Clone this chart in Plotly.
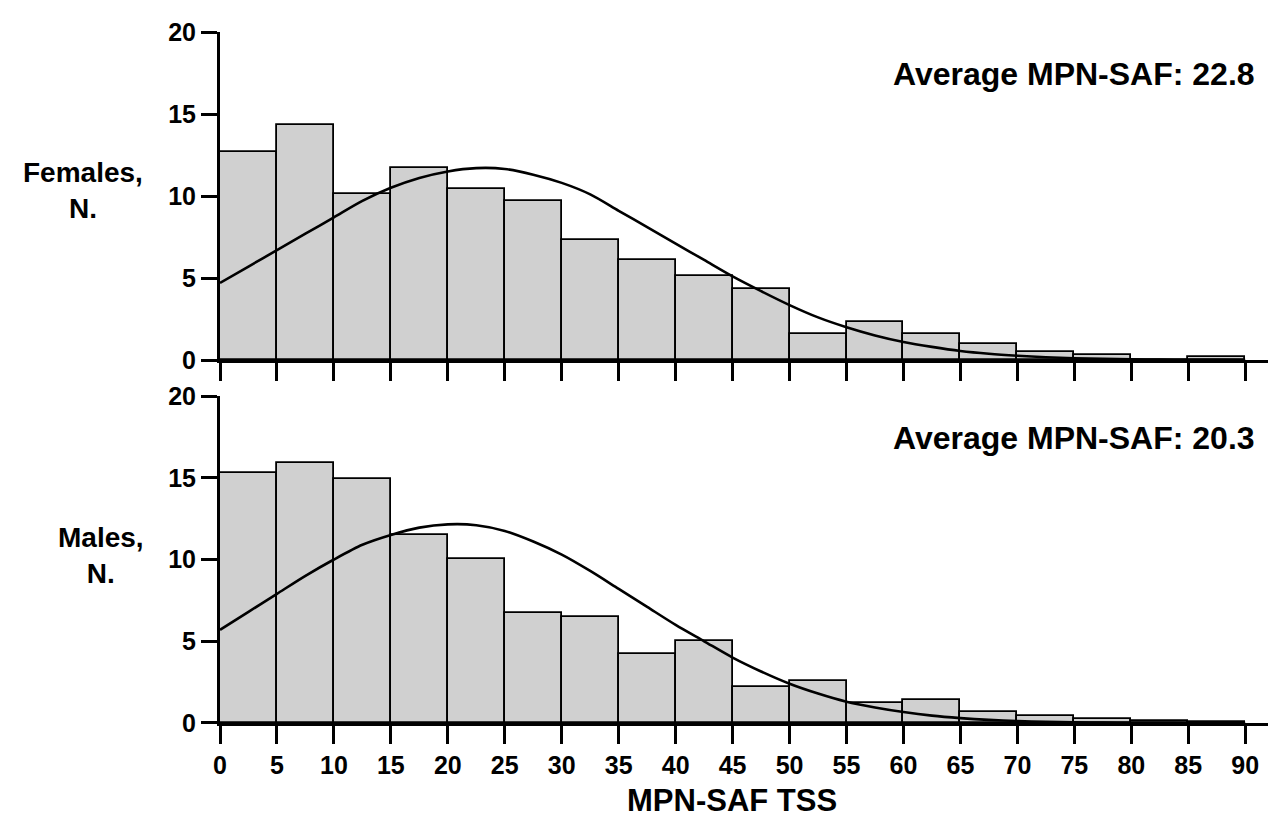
import plotly.graph_objects as go

# ---- data ----
bin_left = [0, 5, 10, 15, 20, 25, 30, 35, 40, 45, 50, 55, 60, 65, 70, 75, 80, 85]
bin_width = 5
females_n = [12.7, 14.3, 10.1, 11.7, 10.4, 9.7, 7.3, 6.1, 5.1, 4.3, 1.6, 2.3, 1.6, 1.0, 0.5, 0.3, 0.0, 0.2]
males_n = [15.3, 15.9, 14.9, 11.5, 10.0, 6.7, 6.5, 4.2, 5.0, 2.2, 2.55, 1.2, 1.4, 0.7, 0.4, 0.25, 0.1, 0.05]

curve_x = [0, 2.5, 5, 7.5, 10, 12.5, 15, 17.5, 20, 22.5, 25, 27.5, 30, 32.5, 35, 37.5, 40, 42.5, 45,
           47.5, 50, 52.5, 55, 57.5, 60, 62.5, 65, 67.5, 70, 72.5, 75, 77.5, 80, 82.5, 85, 87.5, 90]
females_curve = [4.7, 5.7, 6.7, 7.7, 8.7, 9.7, 10.5, 11.1, 11.5, 11.7, 11.65, 11.3, 10.8, 10.1, 9.1, 8.1,
                 7.1, 6.1, 5.1, 4.2, 3.35, 2.6, 2.0, 1.5, 1.1, 0.8, 0.55, 0.38, 0.26, 0.17, 0.11, 0.07,
                 0.04, 0.025, 0.015, 0.009, 0.005]
males_curve = [5.7, 6.8, 7.9, 9.0, 10.0, 10.9, 11.5, 11.95, 12.15, 12.1, 11.75, 11.1, 10.3, 9.3, 8.2, 7.1,
               6.0, 5.0, 4.0, 3.15, 2.4, 1.8, 1.3, 0.95, 0.67, 0.45, 0.3, 0.19, 0.12, 0.075, 0.045, 0.026,
               0.015, 0.008, 0.004, 0.002, 0.001]

x_ticks = [0, 5, 10, 15, 20, 25, 30, 35, 40, 45, 50, 55, 60, 65, 70, 75, 80, 85, 90]
y_ticks = [0, 5, 10, 15, 20]
female_label = "Females,<br>N."
male_label = "Males,<br>N."
female_avg = "Average MPN-SAF: 22.8"
male_avg = "Average MPN-SAF: 20.3"
x_title = "MPN-SAF TSS"

FONT = "Arial, Liberation Sans, sans-serif"
bar_centers = [b + bin_width / 2 for b in bin_left]

fig = go.Figure()

for data, curve, xa, ya in [(females_n, females_curve, "x", "y"), (males_n, males_curve, "x2", "y2")]:
    fig.add_trace(go.Bar(
        x=bar_centers, y=data, width=bin_width, xaxis=xa, yaxis=ya,
        marker=dict(color="#d0d0d0", line=dict(color="#000000", width=1.8)),
        showlegend=False, hoverinfo="skip"))
    fig.add_trace(go.Scatter(
        x=curve_x, y=curve, mode="lines", xaxis=xa, yaxis=ya,
        line=dict(color="#000000", width=2.6, shape="spline", smoothing=0.8),
        showlegend=False, hoverinfo="skip"))

axis_common = dict(
    showgrid=False, zeroline=False, showline=True, linecolor="#000000", linewidth=3,
    ticks="outside", tickcolor="#000000", tickwidth=3,
    tickfont=dict(family=FONT, size=25, color="#000000", weight="bold"),
)

top_dom = [0.5253, 1.0]
bot_dom = [0.0, 0.4732]

fig.update_layout(
    width=1280, height=830, autosize=False,
    margin=dict(l=220, r=12, t=32, b=107),
    plot_bgcolor="#ffffff", paper_bgcolor="#ffffff",
    bargap=0,
    xaxis=dict(axis_common, domain=[0, 1], range=[0, 92], anchor="y", tickvals=x_ticks,
               showticklabels=False, ticklen=18),
    yaxis=dict(axis_common, domain=top_dom, range=[0, 20], anchor="x", tickvals=y_ticks, ticklen=16),
    xaxis2=dict(axis_common, domain=[0, 1], range=[0, 92], anchor="y2", tickvals=x_ticks,
                ticklen=18, matches="x"),
    yaxis2=dict(axis_common, domain=bot_dom, range=[0, 20], anchor="x2", tickvals=y_ticks, ticklen=16),
)

def px_x(p):
    return (p - 220) / 1048.0

def px_y(p):
    return (723 - p) / 691.0

ann_font_big = dict(family=FONT, size=32, color="#000000", weight="bold")
lab_font = dict(family=FONT, size=28, color="#000000", weight="bold")

fig.add_annotation(text=female_avg, xref="paper", yref="paper", x=px_x(1257), y=px_y(74),
                   xanchor="right", yanchor="middle", showarrow=False, font=ann_font_big)
fig.add_annotation(text=male_avg, xref="paper", yref="paper", x=px_x(1257), y=px_y(438),
                   xanchor="right", yanchor="middle", showarrow=False, font=ann_font_big)
fig.add_annotation(text=female_label, xref="paper", yref="paper", x=px_x(83), y=px_y(190),
                   xanchor="center", yanchor="middle", align="center", showarrow=False, font=lab_font)
fig.add_annotation(text=male_label, xref="paper", yref="paper", x=px_x(101), y=px_y(555),
                   xanchor="center", yanchor="middle", align="center", showarrow=False, font=lab_font)
fig.add_annotation(text=x_title, xref="paper", yref="paper", x=px_x(732), y=px_y(801),
                   xanchor="center", yanchor="middle", showarrow=False,
                   font=dict(family=FONT, size=31, color="#000000", weight="bold"))

fig.write_html("out.html", config={"displayModeBar": False},
               post_script="document.body.style.margin='0';document.body.style.overflow='hidden';")
